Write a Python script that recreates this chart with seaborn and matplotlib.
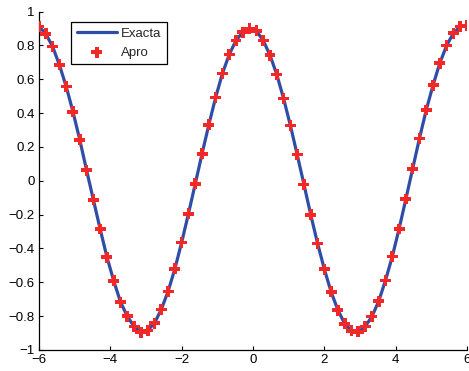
import matplotlib
matplotlib.use("Agg")
import matplotlib.pyplot as plt
import seaborn as sns
import pandas as pd

x_vals = [-6.000, -5.810, -5.619, -5.429, -5.238, -5.048, -4.857, -4.667,
          -4.476, -4.286, -4.095, -3.905, -3.714, -3.524, -3.333, -3.143,
          -2.952, -2.762, -2.571, -2.381, -2.190, -2.000, -1.810, -1.619,
          -1.429, -1.238, -1.048, -0.857, -0.667, -0.476, -0.286, -0.095,
          0.095, 0.286, 0.476, 0.667, 0.857, 1.048, 1.238, 1.429,
          1.619, 1.810, 2.000, 2.190, 2.381, 2.571, 2.762, 2.952,
          3.143, 3.333, 3.524, 3.714, 3.905, 4.095, 4.286, 4.476,
          4.667, 4.857, 5.048, 5.238, 5.429, 5.619, 5.810, 6.000]

y_vals = [0.912, 0.868, 0.793, 0.685, 0.557, 0.408, 0.242, 0.063,
          -0.112, -0.285, -0.451, -0.591, -0.717, -0.801, -0.862, -0.894,
          -0.884, -0.841, -0.760, -0.654, -0.520, -0.364, -0.195, -0.018,
          0.159, 0.331, 0.492, 0.634, 0.746, 0.829, 0.878, 0.898,
          0.885, 0.829, 0.742, 0.628, 0.486, 0.327, 0.155, -0.022,
          -0.201, -0.370, -0.522, -0.657, -0.764, -0.845, -0.886, -0.893,
          -0.862, -0.803, -0.712, -0.589, -0.448, -0.285, -0.108, 0.071,
          0.250, 0.418, 0.565, 0.695, 0.799, 0.872, 0.912, 0.918]

x_ticks = [-6, -4, -2, 0, 2, 4, 6]
x_ticklabels = ["\u22126", "\u22124", "\u22122", "0", "2", "4", "6"]
y_ticks = [-1, -0.8, -0.6, -0.4, -0.2, 0, 0.2, 0.4, 0.6, 0.8, 1]
y_ticklabels = ["\u22121", "\u22120.8", "\u22120.6", "\u22120.4", "\u22120.2", "0",
                "0.2", "0.4", "0.6", "0.8", "1"]

df = pd.DataFrame({"x": x_vals, "y": y_vals})

sns.set_style("ticks")
plt.rcParams["font.family"] = ["Liberation Sans", "DejaVu Sans"]
plt.rcParams["font.size"] = 9.5

fig = plt.figure(figsize=(4.69, 3.71), dpi=100)
ax = fig.add_axes([39 / 469, 1 - 350 / 371, 428 / 469, 338.5 / 371])

sns.lineplot(data=df, x="x", y="y", ax=ax, color="#2E4DA7", linewidth=2.3,
             label="Exacta", sort=True)
sns.scatterplot(data=df, x="x", y="y", ax=ax, marker="P", s=62,
                color="#F02828", edgecolor="none", label="Apro", zorder=3)

ax.set_xlim(-6, 6)
ax.set_ylim(-1, 1)
ax.set_xticks(x_ticks)
ax.set_xticklabels(x_ticklabels)
ax.set_yticks(y_ticks)
ax.set_yticklabels(y_ticklabels)
ax.set_xlabel("")
ax.set_ylabel("")
ax.tick_params(direction="in", length=3, width=0.8, labelsize=9.5, colors="black", pad=3)
for side in ["top", "right"]:
    ax.spines[side].set_visible(False)
for side in ["left", "bottom"]:
    ax.spines[side].set_linewidth(0.9)
    ax.spines[side].set_color("black")

leg = ax.legend(loc="upper left", bbox_to_anchor=(32 / 428, 1 - 10 / 338.5),
                frameon=True, fancybox=False, framealpha=1, edgecolor="black",
                handlelength=3.0, handletextpad=0.3, borderpad=0.45,
                labelspacing=0.5, fontsize=9.5, borderaxespad=0)
leg.get_frame().set_linewidth(0.9)

fig.savefig("out.png", dpi=100)
